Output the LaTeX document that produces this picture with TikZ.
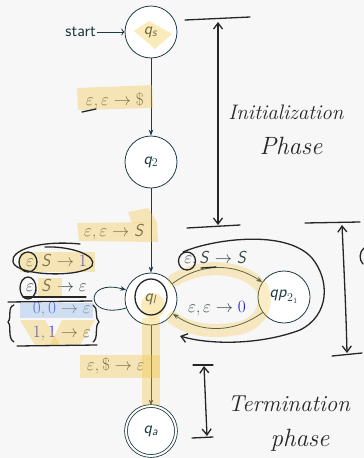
\documentclass[tikz,border=0pt]{standalone}
\usepackage{sansmath}
\usetikzlibrary{arrows.meta}
\DeclareMathAlphabet{\msl}{OT1}{cmss}{m}{sl}
\definecolor{ln}{HTML}{1E3B42}
\definecolor{lbl}{HTML}{3D4848}
\definecolor{num}{HTML}{1818E0}
\definecolor{hl}{HTML}{F4C542}
\definecolor{hlb}{HTML}{A9C8EC}
\definecolor{bg}{HTML}{F7F7F7}
\tikzset{
  state/.style={circle, draw=ln, fill=white, line width=0.8pt, minimum size=52pt, inner sep=0pt, text=ln, font=\fontsize{17}{20}\selectfont\sansmath},
  accstate/.style={state, double=white, double distance=2pt, minimum size=50pt},
  edge/.style={draw=ln, line width=0.8pt, -{Stealth[length=6pt,width=4.5pt]}},
  lab/.style={text=lbl, font=\fontsize{17}{20}\selectfont\sansmath, inner sep=1pt},
  hlt/.style={fill=hl, opacity=0.36, draw=none},
  hlblue/.style={fill=hlb, opacity=0.5, draw=none},
  pen/.style={draw=black!85, line width=1.3pt, line cap=round, line join=round},
  penarrow/.style={pen, {Straight Barb[length=6pt,width=9pt]}-{Straight Barb[length=6pt,width=9pt]}},
  hand/.style={font=\fontsize{21}{24}\selectfont\itshape, text=black!85, inner sep=0pt},
  handbig/.style={hand, font=\fontsize{25}{28}\selectfont\itshape},
}
\newcommand{\nm}[1]{\textcolor{num}{#1}}
\begin{document}
\begin{tikzpicture}[x=1pt,y=-1pt]
\fill[bg] (0,0) rectangle (364,458);
\useasboundingbox (0,0) rectangle (364,458);

% states
\node[state] (qs) at (151,32) {$\msl{q}_{\msl{s}}$};
\node[state] (q2) at (151,162) {$\msl{q}_2$};
\node[state] (ql) at (151,299) {$\msl{q}_{\msl{l}}$};
\node[state] (qp) at (284,297) {$\msl{qp}_{2_1}$};
\node[accstate] (qa) at (151,431) {$\msl{q}_{\msl{a}}$};
\node[text=ln, font=\fontsize{17}{20}\selectfont\sffamily, anchor=east, inner sep=1pt] (st) at (97,32) {start};

% edges
\draw[draw=ln, line width=0.8pt, ->] (st) -- (qs);
\draw[edge] (qs) -- (q2);
\draw[edge] (q2) -- (ql);
\draw[edge] (ql) -- (qa);
\draw[edge] (ql.200) .. controls (84,320) and (84,278) .. (ql.160);
\draw[edge] (ql) to[bend left=35] (qp);
\draw[edge] (qp) to[bend left=35] (ql);

% labels
\node[lab, anchor=east] (l1) at (145,101) {$\varepsilon,\varepsilon\to\$$};
\node[lab, anchor=east] (l2) at (146,232) {$\varepsilon,\varepsilon\to \msl{S}$};
\node[lab, anchor=east] (l3) at (146,366) {$\varepsilon,\$\to\varepsilon$};
\node[lab, anchor=east] (s1) at (88,262) {$\varepsilon,\msl{S}\to\nm{1}$};
\node[lab, anchor=east] (s2) at (88,287) {$\varepsilon,\msl{S}\to\varepsilon$};
\node[lab, anchor=east] (s3) at (92,310) {$\nm{0},\nm{0}\to\varepsilon$};
\node[lab, anchor=east] (s4) at (92,334) {$\nm{1},\nm{1}\to\varepsilon$};
\node[lab] (u1) at (216,259) {$\varepsilon,\msl{S}\to \msl{S}$};
\node[lab] (u2) at (217,309) {$\varepsilon,\varepsilon\to\nm{0}$};

% highlights
\fill[hlt] (134,31) -- (149,21) -- (172,34) -- (155,49) -- cycle;
\fill[hlt] (77,88) -- (152,85) -- (153,108) -- (78,110) -- cycle;
\fill[hlt] (77,223) -- (157,222) -- (158,242) -- (79,241) -- cycle;
\fill[hlt] (128,212) -- (148,208) -- (157,222) -- (132,223) -- cycle;
\fill[hlt] (20,252) rectangle (95,272);
\fill[hlt] (38,278) rectangle (62,298);
\fill[hlblue] (20,303) rectangle (93,318);
\fill[hlt] (20,320) -- (45,320) -- (60,345) -- (35,345) -- cycle;
\fill[hlt] (62,320) -- (95,320) -- (80,345) -- (50,345) -- cycle;
\draw[hl, opacity=0.3, line width=13pt, line cap=round]
  (174,280) .. controls (205,262) and (245,266) .. (262,288)
  .. controls (268,305) and (262,322) .. (240,328)
  .. controls (215,333) and (190,331) .. (173,318);
\fill[hlt] (153,306) ellipse (12 and 13);
\fill[hlt] (142,318) rectangle (160,405);
\fill[hlt] (80,355) rectangle (160,378);

% handwriting
\draw[pen] (185,20) -- (250,17);
\draw[penarrow] (218,22) -- (218,225);
\draw[pen] (187,228) -- (240,225);
\node[hand] (t1) at (286,112) {Initialization};
\node[handbig] (t2) at (291,146) {Phase};

\draw[pen] (305,223) -- (360,222);
\draw[penarrow] (342,225) .. controls (344,270) and (346,310) .. (347,353);
\draw[pen] (332,356) -- (362,353);
\draw[pen] (364,248) .. controls (359,252) and (359,260) .. (363,264);

\draw[pen] (193,365) -- (213,365);
\draw[penarrow] (204,366) -- (207,436);
\draw[pen] (192,438) -- (213,437);
\node[hand, font=\fontsize{23}{26}\selectfont\itshape] (t3) at (289,404) {Termination};
\node[handbig] (t4) at (300,440) {phase};

\draw[pen, -{Straight Barb[length=6pt,width=9pt]}] (183,252) .. controls (210,240) and (285,228) .. (312,258)
  .. controls (330,280) and (330,315) .. (300,330) .. controls (260,345) and (210,345) .. (180,336);

\draw[pen] (28,262) ellipse (9 and 10);
\draw[pen] (28,288) ellipse (8 and 11);
\draw[pen] (80,244) .. controls (40,240) and (10,250) .. (13,262) .. controls (16,276) and (80,278) .. (92,266) .. controls (98,255) and (70,246) .. (45,247);
\draw[pen] (23,297) -- (86,297);
\draw[pen] (8,302) -- (92,301);
\draw[pen] (14,305) .. controls (7,307) and (12,318) .. (8,322) .. controls (12,326) and (7,338) .. (14,342);
\draw[pen] (93,305) .. controls (99,308) and (94,318) .. (99,322) .. controls (94,326) and (99,338) .. (93,342);
\draw[pen] (17,346) -- (97,345);
\draw[pen] (82,112) -- (96,109);
\draw[pen] (187,261) ellipse (8.5 and 9);
\draw[pen] (201,268) -- (216,267);
\draw[pen] (151,297) ellipse (16 and 18);
\end{tikzpicture}
\end{document}
